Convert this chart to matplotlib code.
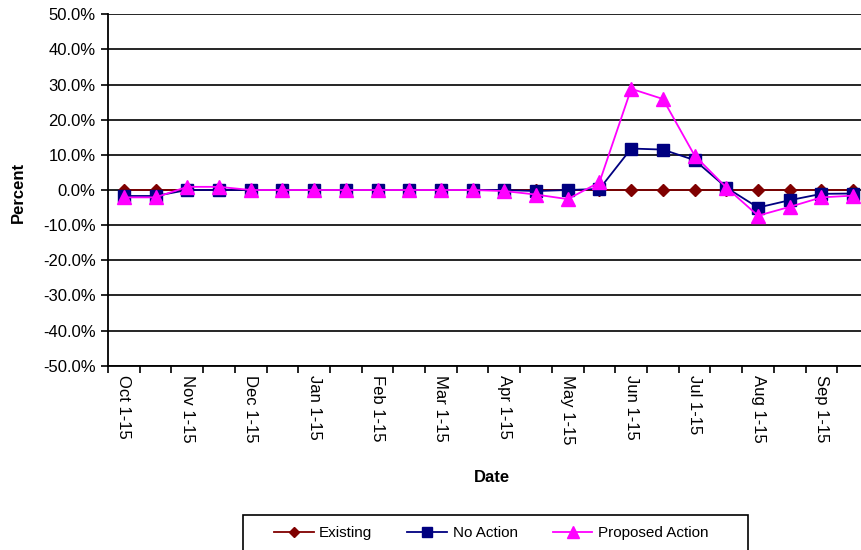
import matplotlib.pyplot as plt
import numpy as np
from matplotlib.patches import Rectangle
from matplotlib.ticker import PercentFormatter

plt.rcParams['font.family'] = ['Liberation Sans', 'DejaVu Sans']
plt.rcParams['axes.unicode_minus'] = False

# half-month periods, Oct 1-15 through Sep 16-30
periods = ['Oct 1-15', 'Oct 16-31', 'Nov 1-15', 'Nov 16-30', 'Dec 1-15', 'Dec 16-31',
           'Jan 1-15', 'Jan 16-31', 'Feb 1-15', 'Feb 16-28', 'Mar 1-15', 'Mar 16-31',
           'Apr 1-15', 'Apr 16-30', 'May 1-15', 'May 16-31', 'Jun 1-15', 'Jun 16-30',
           'Jul 1-15', 'Jul 16-31', 'Aug 1-15', 'Aug 16-31', 'Sep 1-15', 'Sep 16-30']

existing = [0.0] * 24
no_action = [-1.7, -1.7, 0.0, 0.0, 0.0, 0.0, 0.0, 0.0, 0.0, 0.0, 0.0, 0.0,
             0.0, -0.3, 0.0, 0.3, 11.8, 11.5, 8.5, 0.7, -5.0, -2.9, -1.1, -1.0]
proposed = [-2.1, -2.1, 0.9, 0.9, 0.0, 0.0, 0.0, 0.0, 0.0, 0.0, 0.0, 0.0,
            -0.3, -1.3, -2.6, 2.2, 28.8, 25.9, 9.8, 0.7, -7.3, -4.8, -2.1, -1.6]

x = np.arange(len(periods))

W, H = 861, 550
fig = plt.figure(figsize=(W / 100, H / 100), dpi=100)
ax = fig.add_axes([108 / W, 1 - 365.7 / H, 761 / W, (365.7 - 14.3) / H])

ax.plot(x, existing, color='#800000', marker='D', markersize=6, lw=1.3, label='Existing', zorder=3)
ax.plot(x, no_action, color='#000080', marker='s', markersize=8.5, lw=1.3, label='No Action', zorder=4)
ax.plot(x, proposed, color='#FF00FF', marker='^', markersize=9.5, lw=1.3, label='Proposed Action', zorder=5)

ax.set_xlim(-0.5, len(periods) - 0.5)
ax.set_ylim(-50, 50)
ax.set_yticks(np.arange(-50, 51, 10))
ax.yaxis.set_major_formatter(PercentFormatter(decimals=1))
ax.grid(axis='y', color='black', lw=1.2)
ax.set_axisbelow(True)

# label every other period, ticks on the category borders
ax.set_xticks(x[::2])
ax.set_xticklabels(periods[::2], rotation=270, fontsize=12)
ax.set_xticks(np.arange(-0.5, len(periods), 1), minor=True)
ax.tick_params(axis='x', which='major', length=0, pad=7)
ax.tick_params(axis='x', which='minor', length=5, width=1.2, direction='out')
ax.tick_params(axis='y', labelsize=12, length=5, width=1.2, pad=4)

for side in ['top', 'right']:
    ax.spines[side].set_visible(False)
for side in ['left', 'bottom']:
    ax.spines[side].set_linewidth(1.3)

fig.text(18 / W, 1 - 192 / H, 'Percent', rotation=90, fontsize=12, fontweight='bold',
         ha='center', va='center')
fig.text(492 / W, 1 - 477 / H, 'Date', fontsize=12, fontweight='bold',
         ha='center', va='center')

# legend box runs off the bottom of the image
fig.patches.append(Rectangle((243 / W, 1 - 565 / H), (748 - 243) / W, 50 / H,
                             transform=fig.transFigure, fill=False,
                             edgecolor='black', lw=1.2))
fig.legend(loc='center left', bbox_to_anchor=(274 / W, 1 - 533 / H), ncol=3,
           fontsize=11, frameon=False, borderpad=0, borderaxespad=0,
           handlelength=2.6, handletextpad=0.35, columnspacing=2.3, markerscale=0.85)

fig.savefig('out.png', dpi=100)
